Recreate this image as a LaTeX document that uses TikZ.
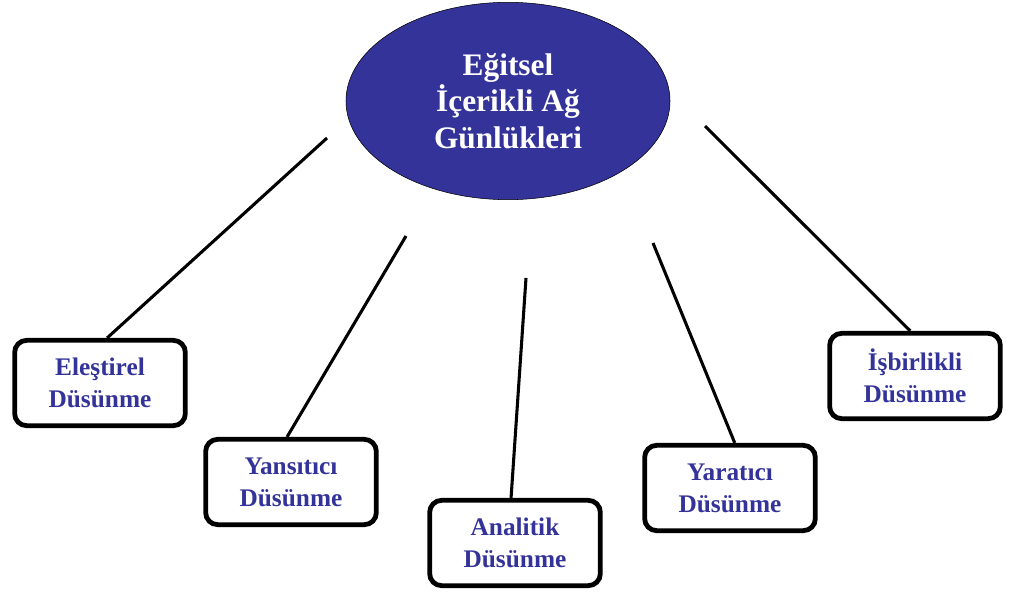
\documentclass[tikz,border=0pt]{standalone}
\usepackage{fontspec}
\setmainfont{Liberation Serif}
\usetikzlibrary{shapes.geometric}
\definecolor{koyumavi}{RGB}{51,51,153}

\begin{document}
\begin{tikzpicture}[x=0.75pt,y=-0.75pt,
    merkez/.style={ellipse,draw=black,thin,fill=koyumavi,text=white,
      minimum width=243pt,minimum height=148pt,inner sep=0pt,align=center,
      font=\fontsize{23.5}{27.5}\selectfont\bfseries},
    kutu/.style={rectangle,rounded corners=9pt,draw=black,line width=3.6pt,
      fill=white,text=koyumavi,minimum width=128pt,minimum height=64pt,
      align=center,font=\fontsize{19}{24}\selectfont\bfseries},
    bag/.style={line width=2.3pt}]
    \useasboundingbox (0,0) rectangle (1014,593);
    \node[merkez] (gunluk) at (508,101) {Eğitsel\\İçerikli Ağ\\Günlükleri};
    \node[kutu] (elestirel) at (100,383) {Eleştirel\\Düsünme};
    \node[kutu] (yansitici) at (291,482) {Yansıtıcı\\Düsünme};
    \node[kutu] (analitik) at (515,543) {Analitik\\Düsünme};
    \node[kutu] (yaratici) at (730,488) {Yaratıcı\\Düsünme};
    \node[kutu] (isbirlikli) at (915,376) {İşbirlikli\\Düsünme};
    % lines start a little away from the ellipse
    \coordinate (u1) at (327,138);
    \coordinate (u2) at (406,236);
    \coordinate (u3) at (526,278);
    \coordinate (u4) at (653,243);
    \coordinate (u5) at (705,126);
    \path[bag]
      (u1) edge (elestirel.81)
      (u2) edge (yansitici.95)
      (u3) edge (analitik.95)
      (u4) edge (yaratici.84)
      (u5) edge (isbirlikli.96)
    ;
\end{tikzpicture}
\end{document}
